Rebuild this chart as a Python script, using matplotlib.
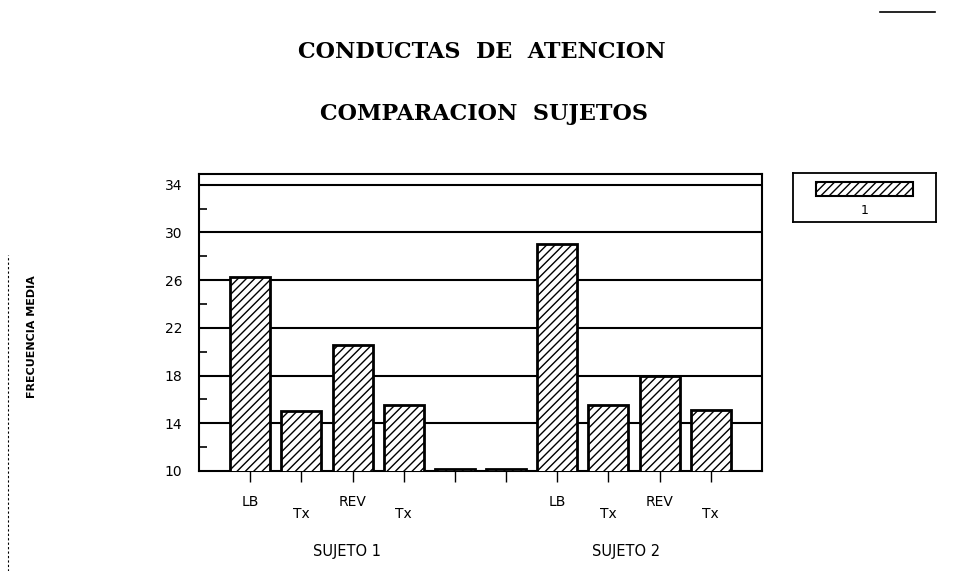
import matplotlib
matplotlib.use("Agg")
import matplotlib.pyplot as plt
from matplotlib.patches import Rectangle
from matplotlib.lines import Line2D

# data
categories = ["LB", "Tx", "REV", "Tx", "", "", "LB", "Tx", "REV", "Tx"]
values = [26.3, 15.0, 20.6, 15.5, 10.15, 10.15, 29.0, 15.5, 18.0, 15.1]
groups = ["SUJETO 1", "SUJETO 2"]
y_ticks = [10, 14, 18, 22, 26, 30, 34]
series_name = "1"

plt.rcParams["hatch.linewidth"] = 1.0

fig = plt.figure(figsize=(9.63, 5.71), dpi=100)
ax = fig.add_axes([199 / 963, 1 - 471 / 571, 563 / 963, 297 / 571])

x = list(range(len(values)))
ax.bar(x, values, width=0.78, color="white", edgecolor="black",
       linewidth=2.0, hatch="////", zorder=3)

ax.set_xlim(-1, len(values))
ax.set_ylim(10, 34.9)
ax.set_yticks(y_ticks)
ax.set_yticklabels([str(t) for t in y_ticks], fontsize=10)
ax.set_yticks(range(12, 34, 4), minor=True)
for t in y_ticks[1:]:
    ax.axhline(t, color="black", linewidth=1.5, zorder=1)

# alternate tick label heights: LB/REV high, Tx low
major = [i for i in x if i % 2 == 0]
minor = [i for i in x if i % 2 == 1]
ax.set_xticks(major)
ax.set_xticklabels([categories[i] for i in major], fontsize=10)
ax.set_xticks(minor, minor=True)
ax.set_xticklabels([categories[i] for i in minor], minor=True, fontsize=10)
ax.tick_params(axis="x", which="major", direction="out", length=8, width=1, pad=9)
ax.tick_params(axis="x", which="minor", direction="out", length=8, width=1, pad=18)
ax.tick_params(axis="y", which="major", length=0, pad=12)
ax.tick_params(axis="y", which="minor", direction="in", length=6, width=1.2)
for s in ax.spines.values():
    s.set_linewidth(1.5)

# group labels
ax.text(1.9, -0.27, groups[0], transform=ax.get_xaxis_transform(),
        ha="center", va="center", fontsize=10.5)
ax.text(7.35, -0.27, groups[1], transform=ax.get_xaxis_transform(),
        ha="center", va="center", fontsize=10.5)

fig.text(32 / 963, 1 - 337 / 571, "FRECUENCIA MEDIA", rotation=90,
         ha="center", va="center", fontsize=8, fontweight="bold")

fig.text(482 / 963, 1 - 52 / 571, "CONDUCTAS  DE  ATENCION", ha="center",
         va="center", fontsize=16, fontweight="bold", family="DejaVu Serif")
fig.text(484 / 963, 1 - 114 / 571, "COMPARACION  SUJETOS", ha="center",
         va="center", fontsize=16, fontweight="bold", family="DejaVu Serif")

# legend box
lax = fig.add_axes([793 / 963, 1 - 222 / 571, 143 / 963, 49 / 571])
lax.set_xlim(0, 1)
lax.set_ylim(0, 1)
lax.set_xticks([])
lax.set_yticks([])
for s in lax.spines.values():
    s.set_linewidth(1.3)
lax.add_patch(Rectangle((0.16, 0.53), 0.68, 0.29, facecolor="white",
                        edgecolor="black", linewidth=1.5, hatch="////"))
lax.text(0.5, 0.24, series_name, ha="center", va="center", fontsize=9)

# scan artefacts: page edge and corner mark
fig.add_artist(Line2D([8 / 963, 8 / 963], [0, 1 - 255 / 571],
                      transform=fig.transFigure, color="black",
                      linewidth=0.8, linestyle=(0, (2, 2))))
fig.add_artist(Line2D([880 / 963, 935 / 963], [1 - 12 / 571, 1 - 12 / 571],
                      transform=fig.transFigure, color="black", linewidth=1.2))

fig.savefig("out.png", dpi=100)
